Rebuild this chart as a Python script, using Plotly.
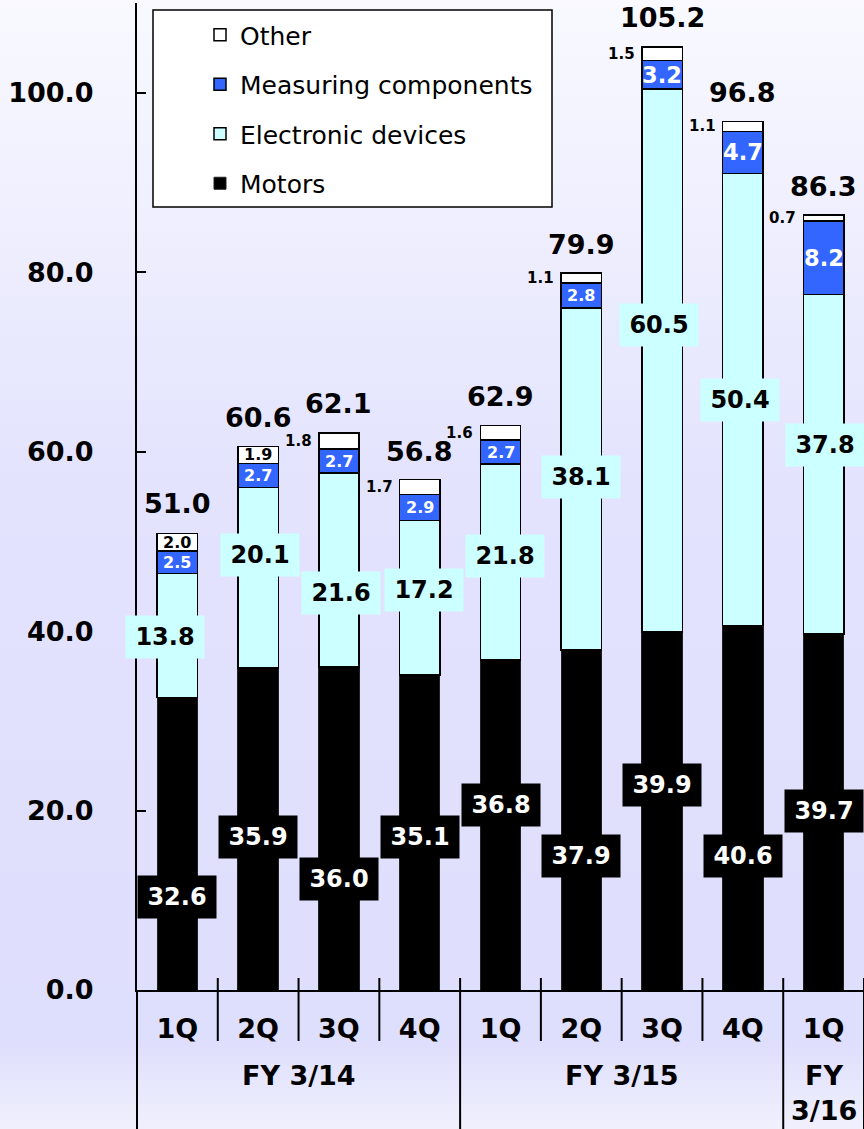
import plotly.graph_objects as go

# ---------------- data ----------------
quarters = ["1Q", "2Q", "3Q", "4Q", "1Q", "2Q", "3Q", "4Q", "1Q"]
fiscal_years = ["FY 3/14", "FY 3/15", "FY<br>3/16"]
fy_counts = [4, 4, 1]
motors = [32.6, 35.9, 36.0, 35.1, 36.8, 37.9, 39.9, 40.6, 39.7]
electronic = [13.8, 20.1, 21.6, 17.2, 21.8, 38.1, 60.5, 50.4, 37.8]
measuring = [2.5, 2.7, 2.7, 2.9, 2.7, 2.8, 3.2, 4.7, 8.2]
other = [2.0, 1.9, 1.8, 1.7, 1.6, 1.1, 1.5, 1.1, 0.7]
totals = [51.0, 60.6, 62.1, 56.8, 62.9, 79.9, 105.2, 96.8, 86.3]
y_ticks = [0, 20, 40, 60, 80, 100]

# -------- label placement (layout only) --------
motor_label_y = [10.4, 17.1, 12.4, 17.1, 20.6, 14.9, 22.8, 14.9, 19.9]
elec_label_y = [39.3, 48.5, 44.2, 44.6, 48.4, 57.2, 74.1, 65.8, 60.7]
elec_label_dx = [-12, 2, 2, 4, 4, 0, -3, -3, 1]

# -------- styles --------
FONT = "DejaVu Sans"
C_MOTOR = "#000000"
C_ELEC = "#CCFFFF"
C_MEAS = "#3366FF"
C_OTHER = "#FFFFFF"

W, H = 864, 1129
ML, MR, MT, MB = 137, 0, 3, 139
PH = H - MT - MB
BAR_W = 0.5


def py(Y):
    """pixel y -> paper y"""
    return (H - MB - Y) / PH


xs = list(range(len(quarters)))

fig = go.Figure()
series = [
    ("Motors", motors, C_MOTOR, "#202020", 1),
    ("Electronic devices", electronic, C_ELEC, "#000000", 1.5),
    ("Measuring components", measuring, C_MEAS, "#000000", 1.5),
    ("Other", other, C_OTHER, "#000000", 1.5),
]
for k, (name, vals, col, lc, lw) in enumerate(series):
    fig.add_trace(go.Bar(
        x=xs, y=vals, name=name, width=BAR_W,
        marker=dict(color=col, line=dict(color=lc, width=lw)),
        legendgroup=name, legendrank=1000 - k, hoverinfo="skip",
    ))

# ---------------- background gradient ----------------
stops = [(0, (249, 249, 255)), (480, (227, 227, 254)),
         (1040, (222, 222, 253)), (1129, (240, 240, 253))]


def grad(Y):
    for (y0, c0), (y1, c1) in zip(stops[:-1], stops[1:]):
        if y0 <= Y <= y1:
            t = (Y - y0) / (y1 - y0)
            return "rgb(%d,%d,%d)" % tuple(round(a + (b - a) * t) for a, b in zip(c0, c1))
    return "rgb(%d,%d,%d)" % stops[-1][1]


shapes = []
step = 8
for Y in range(0, H, step):
    shapes.append(dict(type="rect", xref="paper", yref="paper",
                       x0=-0.25, x1=1.05, y0=py(Y + step + 1), y1=py(Y),
                       fillcolor=grad(Y + step / 2), line=dict(width=0), layer="below"))

# legend box
shapes.append(dict(type="rect", xref="paper", yref="paper",
                   x0=(153 - ML) / (W - ML - MR), x1=(552 - ML) / (W - ML - MR),
                   y0=py(207), y1=py(10), fillcolor="white",
                   line=dict(color="black", width=1.5), layer="below"))

# category separators
bounds = [i + 0.5 for i in xs]
group_ends = []
acc = -0.5
for c in fy_counts:
    acc += c
    group_ends.append(acc)
for b in bounds:
    long_line = b in group_ends
    shapes.append(dict(type="line", xref="x", yref="paper", x0=b, x1=b,
                       y0=py(978), y1=py(H) if long_line else py(1041),
                       line=dict(color="black", width=2)))
# y-axis line extension below axis
shapes.append(dict(type="line", xref="paper", yref="paper", x0=0, x1=0,
                   y0=py(H), y1=0, line=dict(color="black", width=2)))

# ---------------- annotations ----------------
ann = []
for i in xs:
    # motors
    ann.append(dict(x=i, y=motor_label_y[i], xref="x", yref="y",
                    text="%.1f" % motors[i], showarrow=False,
                    font=dict(family=FONT, size=24, color="white", weight="bold"),
                    bgcolor=C_MOTOR, width=76, height=40, borderpad=1))
    # electronic
    ann.append(dict(x=i, y=elec_label_y[i], xref="x", yref="y", xshift=elec_label_dx[i],
                    text="%.1f" % electronic[i], showarrow=False,
                    font=dict(family=FONT, size=24, color="black", weight="bold"),
                    bgcolor=C_ELEC, width=76, height=40, borderpad=1))
    # measuring
    base = motors[i] + electronic[i]
    ann.append(dict(x=i, y=base + measuring[i] / 2, xref="x", yref="y",
                    text="%.1f" % measuring[i], showarrow=False,
                    font=dict(family=FONT, size=16 if measuring[i] < 3 else 22.5,
                              color="white", weight="bold")))
    # other
    base2 = base + measuring[i]
    if other[i] >= 1.9:
        ann.append(dict(x=i, y=base2 + other[i] / 2, xref="x", yref="y",
                        text="%.1f" % other[i], showarrow=False,
                        font=dict(family=FONT, size=16, color="black", weight="bold")))
    else:
        ann.append(dict(x=i - BAR_W / 2, y=base2 + other[i] / 2, xref="x", yref="y",
                        xanchor="right", xshift=-5,
                        text="%.1f" % other[i], showarrow=False,
                        font=dict(family=FONT, size=15, color="black", weight="bold")))
    # totals
    ann.append(dict(x=i, y=totals[i], xref="x", yref="y", yshift=29,
                    text="%.1f" % totals[i], showarrow=False,
                    font=dict(family=FONT, size=27, color="black", weight="bold")))

# fiscal-year group labels
start = -0.5
for fy, c in zip(fiscal_years, fy_counts):
    ann.append(dict(x=start + c / 2, y=py(1058), xref="x", yref="paper",
                    yanchor="top", text=fy, showarrow=False,
                    font=dict(family=FONT, size=27, color="black", weight="bold")))
    start += c

fig.update_layout(
    width=W, height=H,
    margin=dict(l=ML, r=MR, t=MT, b=MB, pad=0),
    barmode="stack",
    paper_bgcolor="#E2E2FE",
    plot_bgcolor="rgba(0,0,0,0)",
    shapes=shapes,
    annotations=ann,
    showlegend=True,
    legend=dict(
        x=(200 - ML) / (W - ML - MR), y=py(12), xanchor="left", yanchor="top",
        traceorder="grouped", tracegroupgap=14,
        bgcolor="rgba(0,0,0,0)", borderwidth=0,
        font=dict(family=FONT, size=25, color="black"),
    ),
    xaxis=dict(
        range=[-0.5, len(quarters) - 0.5], tickvals=xs, ticktext=quarters,
        showline=True, linecolor="black", linewidth=2, ticks="",
        showgrid=False, zeroline=False, ticklabelstandoff=14,
        tickfont=dict(family=FONT, size=27, color="black", weight="bold"),
        fixedrange=True,
    ),
    yaxis=dict(
        range=[0, 110], tickvals=y_ticks, tickformat=".1f",
        showline=True, linecolor="black", linewidth=2,
        ticks="inside", ticklen=9, tickwidth=2, tickcolor="black",
        showgrid=False, zeroline=False, ticklabelstandoff=36,
        tickfont=dict(family=FONT, size=27, color="black", weight="bold"),
        fixedrange=True,
    ),
    hovermode=False,
)

fig.write_html("out.html", config={"displayModeBar": False},
               post_script="document.body.style.margin='0';document.body.style.overflow='hidden';")
